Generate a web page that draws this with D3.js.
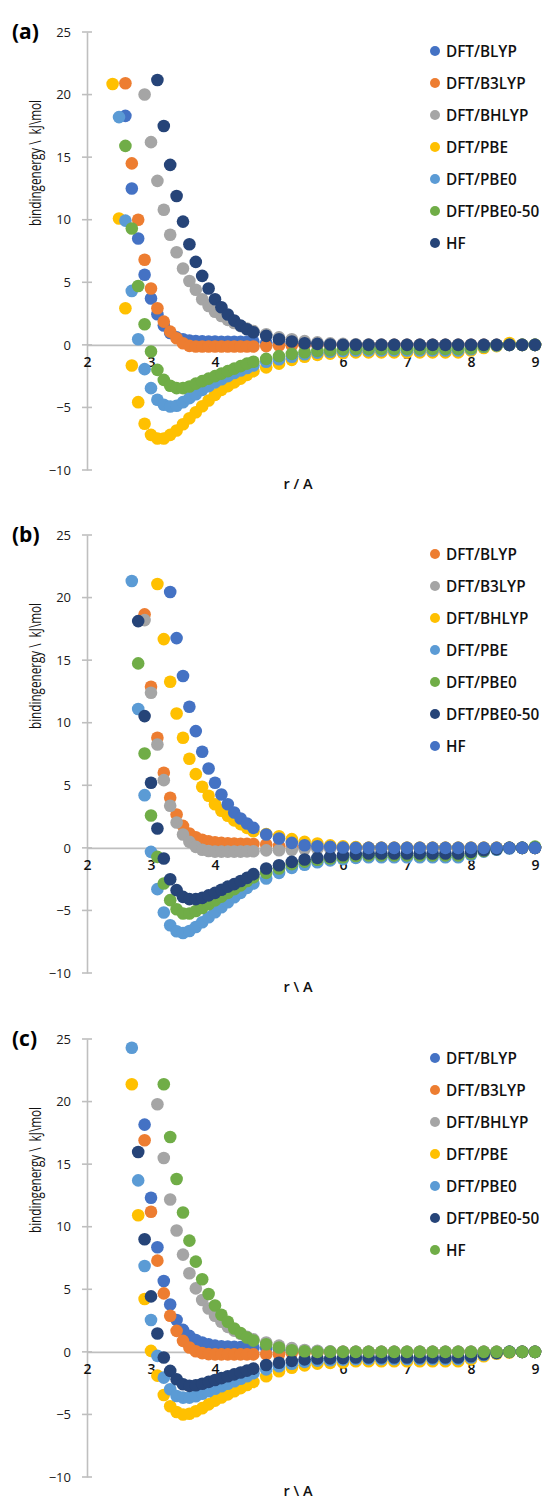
<!DOCTYPE html>
<html><head><meta charset="utf-8">
<script src="https://cdn.jsdelivr.net/npm/d3@7"></script>
<style>
html,body{margin:0;padding:0;background:#fff;}
svg{display:block;font-family:"Open Sans",sans-serif;}
</style></head>
<body><svg id="c" width="544" height="1500"></svg>
<script>
// distances r (Å)
const rValues = [2.4,2.5,2.6,2.7,2.8,2.9,3.0,3.1,3.2,3.3,3.4,3.5,3.6,3.7,3.8,3.9,4.0,4.1,4.2,4.3,4.4,4.5,4.6,
  4.8,5.0,5.2,5.4,5.6,5.8,6.0,6.2,6.4,6.6,6.8,7.0,7.2,7.4,7.6,7.8,8.0,8.2,8.4,8.6,8.8,9.0];
const xTicks = [2,3,4,5,6,7,8,9];
const yTicks = [-10,-5,0,5,10,15,20,25];
const seriesNames = ["DFT/BLYP","DFT/B3LYP","DFT/BHLYP","DFT/PBE","DFT/PBE0","DFT/PBE0-50","HF"];
const panelLabels = ["(a)","(b)","(c)"];
const xTitles = ["r / A","r \\ A","r \\ A"];
const yTitle = "bindingenergy \\  kJ\\mol";

// panel (a)
const aBLYP   = [null,null,18.3,12.5,8.5,5.6,3.7,2.45,1.55,0.95,0.6,0.45,0.35,0.3,0.28,0.27,0.26,0.25,0.25,0.25,0.25,0.25,0.25,
  0.18,0.12,0.08,0.05,0.03,0.02,0,0,0,0,0,0,0,0,0,0,0,0,0,0,0,0];
const aB3LYP  = [null,null,20.9,14.5,10.0,6.8,4.5,2.93,1.86,1.06,0.53,0.13,-0.08,-0.13,-0.13,-0.13,-0.13,-0.13,-0.13,-0.13,-0.13,-0.13,-0.13,
  -0.1,-0.05,-0.03,-0.02,0,0,0,0,0,0,0,0,0,0,0,0,0,0,0,0,0,0];
const aBHLYP  = [null,null,null,null,null,20.0,16.2,13.1,10.8,8.8,7.4,6.1,5.1,4.4,3.65,3.1,2.65,2.3,2.0,1.75,1.5,1.3,1.1,
  0.85,0.6,0.45,0.3,0.2,0.12,0.08,0.05,0.03,0.02,0,0,0,0,0,0,0,0,0,0,0,0];
const aPBE    = [20.85,10.1,2.93,-1.65,-4.58,-6.31,-7.19,-7.48,-7.48,-7.19,-6.84,-6.34,-5.86,-5.38,-4.9,-4.45,-4.0,-3.6,-3.3,-3.0,-2.7,-2.4,-2.1,
  -1.8,-1.5,-1.2,-0.95,-0.8,-0.7,-0.65,-0.6,-0.6,-0.6,-0.6,-0.6,-0.6,-0.6,-0.6,-0.6,-0.45,-0.25,-0.1,0.15,0,0];
const aPBE0   = [null,18.2,9.93,4.31,0.45,-1.94,-3.46,-4.39,-4.79,-4.93,-4.87,-4.58,-4.26,-3.95,-3.6,-3.3,-3.0,-2.75,-2.5,-2.25,-2.05,-1.85,-1.65,
  -1.35,-1.15,-0.95,-0.75,-0.62,-0.55,-0.5,-0.45,-0.45,-0.45,-0.45,-0.45,-0.45,-0.45,-0.45,-0.45,-0.35,-0.15,-0.05,0,0,0];
const aPBE050 = [null,null,15.9,9.3,4.7,1.65,-0.53,-2.0,-2.8,-3.27,-3.46,-3.46,-3.33,-3.1,-2.9,-2.7,-2.5,-2.3,-2.1,-1.9,-1.7,-1.5,-1.35,
  -1.12,-0.9,-0.72,-0.59,-0.48,-0.43,-0.36,-0.32,-0.32,-0.32,-0.32,-0.32,-0.32,-0.32,-0.32,-0.32,-0.27,-0.13,-0.03,0,0,0];
const aHF     = [null,null,null,null,null,null,null,21.17,17.49,14.38,11.9,9.85,8.04,6.63,5.51,4.5,3.65,3.01,2.42,1.94,1.54,1.25,1.01,
  0.72,0.45,0.27,0.13,0.08,0.03,0,0,0,0,0,0,0,0,0,0,0,0,0,0,0,0];

// panel (b)
const bBLYP   = [null,null,null,null,null,18.66,12.87,8.8,6.0,4.0,2.67,1.76,1.15,0.85,0.65,0.52,0.45,0.4,0.37,0.35,0.33,0.32,0.31,
  0.27,0.15,0.1,0.05,0.03,0,0,0,0,0,0,0,0,0,0,0,0,0,0,0,0,0];
const bB3LYP  = [null,null,null,null,null,18.2,12.39,8.26,5.41,3.36,2.03,1.07,0.48,0.08,-0.15,-0.25,-0.3,-0.3,-0.3,-0.3,-0.3,-0.28,-0.27,
  -0.2,-0.19,-0.15,-0.1,-0.08,-0.05,-0.03,0,0,0,0,0,0,0,0,0,0,0,0,0,0,0];
const bBHLYP  = [null,null,null,null,null,null,null,21.08,16.68,13.27,10.74,8.8,7.12,5.89,4.88,4.16,3.49,2.96,2.56,2.2,1.9,1.6,1.33,
  1.1,0.93,0.7,0.48,0.35,0.2,0.12,0.06,0,0,0,0,0,0,0,0,0,0,0,0,0,0];
const bPBE    = [null,null,null,21.32,11.09,4.21,-0.32,-3.3,-5.17,-6.18,-6.66,-6.8,-6.64,-6.32,-5.95,-5.55,-5.15,-4.75,-4.35,-3.95,-3.6,-3.2,-2.85,
  -2.45,-2.0,-1.6,-1.35,-1.15,-1.0,-0.9,-0.8,-0.75,-0.75,-0.75,-0.75,-0.75,-0.75,-0.75,-0.75,-0.55,-0.3,-0.15,-0.05,0,0];
const bPBE0   = [null,null,null,null,14.74,7.54,2.59,-0.72,-2.85,-4.18,-4.9,-5.25,-5.25,-5.05,-4.8,-4.5,-4.2,-3.9,-3.6,-3.3,-3.0,-2.65,-2.35,
  -2.0,-1.65,-1.3,-1.1,-0.95,-0.85,-0.75,-0.65,-0.6,-0.6,-0.6,-0.6,-0.6,-0.6,-0.6,-0.6,-0.45,-0.25,-0.1,0,0,0.1];
const bPBE050 = [null,null,null,null,18.12,10.53,5.2,1.55,-0.85,-2.51,-3.38,-3.92,-4.1,-4.1,-4.0,-3.8,-3.6,-3.35,-3.1,-2.9,-2.65,-2.4,-2.1,
  -1.65,-1.39,-1.12,-0.93,-0.8,-0.72,-0.59,-0.5,-0.45,-0.45,-0.45,-0.45,-0.45,-0.45,-0.45,-0.45,-0.32,-0.19,-0.1,0,0,0];
const bHF     = [null,null,null,null,null,null,null,null,null,20.44,16.76,13.73,11.27,9.33,7.68,6.34,5.2,4.26,3.49,2.83,2.35,1.95,1.6,
  1.07,0.75,0.4,0.21,0.13,0.08,0.03,0,0,0,0,0,0,0,0,0,0,0,0,0,0,0];

// panel (c)
const cBLYP   = [null,null,null,null,null,18.16,12.31,8.36,5.66,3.79,2.54,1.76,1.28,0.95,0.75,0.6,0.5,0.45,0.42,0.4,0.38,0.36,0.35,
  0.3,0.2,0.12,0.08,0.05,0,0,0,0,0,0,0,0,0,0,0,0,0,0,0,0,0];
const cB3LYP  = [null,null,null,null,null,16.91,11.19,7.29,4.67,2.88,1.68,0.88,0.35,0.05,-0.1,-0.18,-0.2,-0.2,-0.2,-0.2,-0.2,-0.2,-0.2,
  -0.19,-0.19,-0.1,-0.05,-0.03,0,0,0,0,0,0,0,0,0,0,0,0,0,0,0,0,0];
const cBHLYP  = [null,null,null,null,null,null,null,19.79,15.49,12.18,9.7,7.77,6.28,5.07,4.14,3.47,2.88,2.4,2.0,1.7,1.45,1.2,1.0,
  0.75,0.5,0.3,0.15,0.08,0.04,0,0,0,0,0,0,0,0,0,0,0,0,0,0,0,0];
const cPBE    = [null,null,null,21.39,10.92,4.22,0.08,-1.9,-3.45,-4.35,-4.8,-5.0,-4.95,-4.75,-4.5,-4.2,-3.9,-3.65,-3.4,-3.15,-2.9,-2.65,-2.4,
  -1.95,-1.55,-1.27,-1.08,-0.94,-0.88,-0.85,-0.75,-0.75,-0.75,-0.75,-0.75,-0.75,-0.75,-0.75,-0.75,-0.6,-0.35,-0.15,-0.05,0,0];
const cPBE0   = [null,null,null,24.3,13.7,6.86,2.54,-0.32,-2.06,-2.99,-3.53,-3.66,-3.66,-3.55,-3.35,-3.15,-2.95,-2.75,-2.55,-2.35,-2.15,-1.95,-1.7,
  -1.4,-1.15,-0.95,-0.8,-0.7,-0.67,-0.62,-0.58,-0.58,-0.58,-0.58,-0.58,-0.58,-0.58,-0.58,-0.58,-0.45,-0.25,-0.1,0,0,0];
const cPBE050 = [null,null,null,null,15.97,9.0,4.43,1.47,-0.45,-1.52,-2.19,-2.59,-2.72,-2.67,-2.55,-2.4,-2.25,-2.1,-1.95,-1.8,-1.65,-1.5,-1.34,
  -1.05,-0.87,-0.72,-0.6,-0.53,-0.52,-0.5,-0.45,-0.45,-0.45,-0.45,-0.45,-0.45,-0.45,-0.45,-0.45,-0.35,-0.19,-0.08,0,0,0];
const cHF     = [null,null,null,null,null,null,null,null,21.39,17.17,13.81,11.14,8.89,7.21,5.8,4.62,3.71,2.96,2.4,1.87,1.5,1.15,0.9,
  0.61,0.35,0.13,0.05,0,0,0,0,0,0,0,0,0,0,0,0,0,0,0,0,0,0];

const C = {blue:"#4472C4",orange:"#ED7D31",gray:"#A5A5A5",gold:"#FFC000",lblue:"#5B9BD5",green:"#70AD47",navy:"#264478"};
const panels = [
  {values:[aBLYP,aB3LYP,aBHLYP,aPBE,aPBE0,aPBE050,aHF], colors:[C.blue,C.orange,C.gray,C.gold,C.lblue,C.green,C.navy]},
  {values:[bBLYP,bB3LYP,bBHLYP,bPBE,bPBE0,bPBE050,bHF], colors:[C.orange,C.gray,C.gold,C.lblue,C.green,C.navy,C.blue]},
  {values:[cBLYP,cB3LYP,cBHLYP,cPBE,cPBE0,cPBE050,cHF], colors:[C.blue,C.orange,C.gray,C.gold,C.lblue,C.navy,C.green]}
];

const svg = d3.select("#c");
const panelTop = [32, 535, 1039];
const plotH = 438;
const x = d3.scaleLinear().domain([2,9]).range([87,535]);
const axisColor = "#BFBFBF";

panels.forEach((p, pi) => {
  const top = panelTop[pi];
  const y = d3.scaleLinear().domain([-10,25]).range([top+plotH, top]);
  const g = svg.append("g");

  // y axis
  const ya = g.append("g").attr("transform", `translate(${x(2)},0)`)
    .call(d3.axisLeft(y).tickValues(yTicks).tickSize(0).tickPadding(16).tickFormat(d3.format("d")));
  ya.select(".domain").attr("stroke", axisColor).attr("stroke-width", 1.6);
  ya.selectAll("text").attr("font-size", 13).attr("fill", "#1a1a1a").attr("font-family", "Open Sans");
  g.selectAll(".ytk").data(yTicks).join("line")
    .attr("x1", x(2)-5).attr("x2", x(2)+5)
    .attr("y1", d => y(d)).attr("y2", d => y(d))
    .attr("stroke", axisColor).attr("stroke-width", 1.6);

  // x axis at y = 0
  const xa = g.append("g").attr("transform", `translate(0,${y(0)})`)
    .call(d3.axisBottom(x).tickValues(xTicks).tickSize(0).tickPadding(12).tickFormat(d3.format("d")));
  xa.select(".domain").attr("stroke", axisColor).attr("stroke-width", 1.6);
  xa.selectAll("text").attr("font-size", 14).attr("font-weight", 600).attr("fill", "#111").attr("font-family", "Open Sans");

  // points
  p.values.forEach((vals, si) => {
    const pts = rValues.map((r, i) => ({r, v: vals[i]})).filter(d => d.v !== null && d.v <= 25 && d.v >= -10);
    g.append("g").selectAll("circle").data(pts).join("circle")
      .attr("cx", d => x(d.r)).attr("cy", d => y(d.v)).attr("r", 6.3)
      .attr("fill", p.colors[si]);
  });

  // legend
  const lg = g.append("g");
  seriesNames.forEach((name, si) => {
    const ly = top + 19 + si*32;
    lg.append("circle").attr("cx", 435).attr("cy", ly).attr("r", 5).attr("fill", p.colors[si]);
    lg.append("text").attr("x", 446).attr("y", ly).attr("dy", "0.36em")
      .attr("font-size", 15.3).attr("font-weight", 600).attr("fill", "#111").text(name);
  });

  // panel label
  g.append("text").attr("x", 12).attr("y", top + 7).attr("font-size", 21).attr("font-weight", 700)
    .attr("fill", "#000").text(panelLabels[pi]);

  // axis titles
  g.append("text").attr("x", 298).attr("y", top + 457).attr("text-anchor", "middle")
    .attr("font-size", 14.5).attr("font-weight", 600).attr("fill", "#111")
    .style("white-space", "pre").text(xTitles[pi]);
  g.append("text").attr("transform", `translate(41,${top + 131}) rotate(-90)`)
    .attr("text-anchor", "middle").attr("font-size", 16).attr("fill", "#111")
    .attr("textLength", 126).attr("lengthAdjust", "spacingAndGlyphs")
    .style("white-space", "pre").text(yTitle);
});
</script></body></html>
